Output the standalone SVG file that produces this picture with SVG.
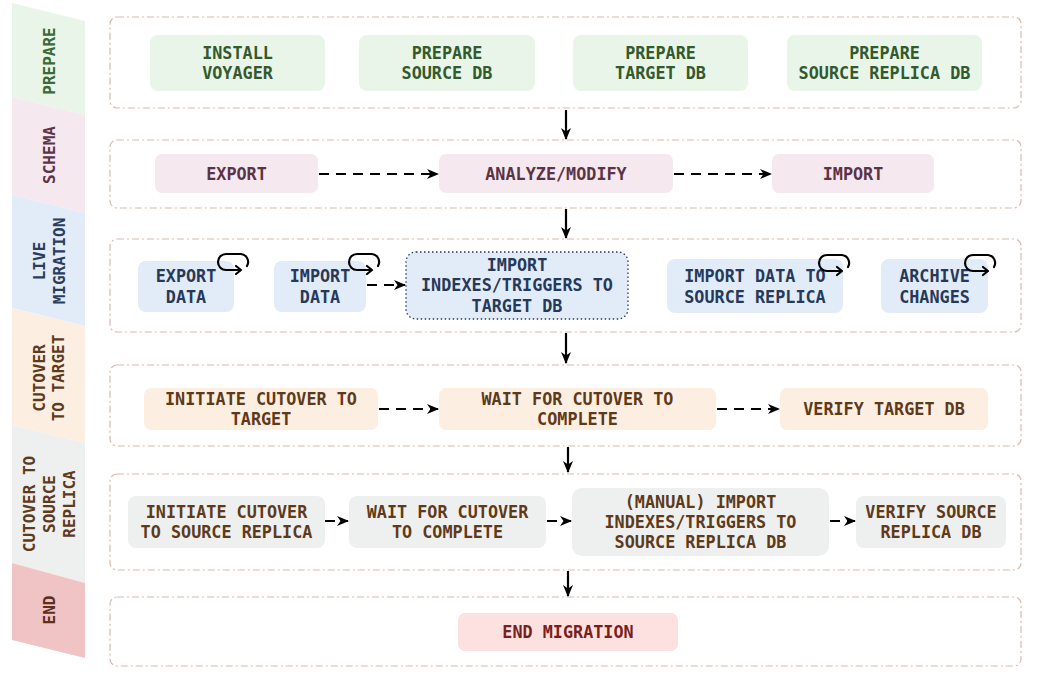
<svg xmlns="http://www.w3.org/2000/svg" width="1038" height="677" viewBox="0 0 1038 677">
  <style>
    .t { font-family: "DejaVu Sans Mono", "Liberation Mono", monospace; font-weight: bold; font-size: 16.8px; text-anchor: middle; }
    .lt { font-size: 16px; }
    .lane { stroke: none; }
    .box { fill: none; stroke: #d6bcae; stroke-width: 1.2; stroke-dasharray: 7 3 2 3; }
    .flow { fill: none; stroke: #000; stroke-width: 2.2; }
    .dash { stroke-dasharray: 10 7; }
    .loop { fill: none; stroke: #000; stroke-width: 2.2; stroke-linecap: round; stroke-linejoin: round; }
    .g-prep rect { fill: #e9f5e8; } .g-prep text { fill: #325a2d; }
    .g-sch rect { fill: #f5e8ef; } .g-sch text { fill: #5a3346; }
    .g-live rect { fill: #e2ecf8; } .g-live text { fill: #26395a; }
    .g-ct rect { fill: #fdeee2; } .g-ct text { fill: #5e3a1a; }
    .g-cs rect { fill: #eef0ef; } .g-cs text { fill: #5e3a1a; }
    .g-end rect { fill: #fde1e1; } .g-end text { fill: #7a1f1a; }
  </style>
  <defs>
    <marker id="ah" viewBox="0 0 12 10" refX="11" refY="5" markerWidth="12" markerHeight="10" markerUnits="userSpaceOnUse" orient="auto">
      <path d="M0,0 L12,5 L0,10 L3.5,5 z" fill="#000"/>
    </marker>
    <g id="loop">
      <path class="loop" d="M22,18 H8 A8,8 0 0 1 8,2 H23 A8,8 0 0 1 29,14"/>
      <path class="loop" d="M18,14 L23,18 L18,22"/>
    </g>
  </defs>

  <!-- phase bands -->
  <g id="lanes">
    <polygon class="lane" fill="#e9f5e8" points="12,3 85,21 85,115 12,97"/>
    <polygon class="lane" fill="#f5e8ef" points="12,97 85,115 85,213 12,195"/>
    <polygon class="lane" fill="#e2ecf8" points="12,195 85,213 85,326 12,308"/>
    <polygon class="lane" fill="#fdeee2" points="12,308 85,326 85,443 12,425"/>
    <polygon class="lane" fill="#eef0ef" points="12,425 85,443 85,583 12,563"/>
    <polygon class="lane" fill="#f0c4c4" points="12,563 85,583 85,658 12,640"/>
    <text class="t lt" fill="#3a6a35" transform="translate(49,61) rotate(-90)" dominant-baseline="central">PREPARE</text>
    <text class="t lt" fill="#5e3548" transform="translate(49,155) rotate(-90)" dominant-baseline="central">SCHEMA</text>
    <g fill="#2b3d5e">
      <text class="t lt" transform="translate(39,261) rotate(-90)" dominant-baseline="central">LIVE</text>
      <text class="t lt" transform="translate(59,261) rotate(-90)" dominant-baseline="central">MIGRATION</text>
    </g>
    <g fill="#5e3b1c">
      <text class="t lt" transform="translate(39,378) rotate(-90)" dominant-baseline="central">CUTOVER</text>
      <text class="t lt" transform="translate(58,378) rotate(-90)" dominant-baseline="central">TO TARGET</text>
    </g>
    <g fill="#5e3b1c">
      <text class="t lt" transform="translate(29,504) rotate(-90)" dominant-baseline="central">CUTOVER TO</text>
      <text class="t lt" transform="translate(49,504) rotate(-90)" dominant-baseline="central">SOURCE</text>
      <text class="t lt" transform="translate(69,504) rotate(-90)" dominant-baseline="central">REPLICA</text>
    </g>
    <text class="t lt" fill="#5e2f1c" transform="translate(49,610) rotate(-90)" dominant-baseline="central">END</text>
  </g>

  <!-- phase containers -->
  <g id="containers">
    <rect class="box" x="110" y="17" width="911" height="91" rx="7"/>
    <rect class="box" x="110" y="140" width="911" height="68" rx="7"/>
    <rect class="box" x="110" y="239" width="911" height="93" rx="7"/>
    <rect class="box" x="110" y="365" width="911" height="81" rx="7"/>
    <rect class="box" x="110" y="474" width="911" height="96" rx="7"/>
    <rect class="box" x="110" y="597" width="911" height="69" rx="7"/>
  </g>

  <!-- PREPARE -->
  <g id="install-voyager" class="g-prep">
    <rect x="150" y="35" width="175" height="56" rx="8"/>
    <text class="t" x="237.5" y="59">INSTALL</text>
    <text class="t" x="237.5" y="79">VOYAGER</text>
  </g>
  <g id="prepare-source" class="g-prep">
    <rect x="359" y="35" width="176" height="56" rx="8"/>
    <text class="t" x="447" y="59">PREPARE</text>
    <text class="t" x="447" y="79">SOURCE DB</text>
  </g>
  <g id="prepare-target" class="g-prep">
    <rect x="573" y="35" width="175" height="56" rx="8"/>
    <text class="t" x="660.5" y="59">PREPARE</text>
    <text class="t" x="660.5" y="79">TARGET DB</text>
  </g>
  <g id="prepare-replica" class="g-prep">
    <rect x="787" y="35" width="195" height="56" rx="8"/>
    <text class="t" x="884.5" y="59">PREPARE</text>
    <text class="t" x="884.5" y="79">SOURCE REPLICA DB</text>
  </g>

  <!-- SCHEMA -->
  <g id="schema-export" class="g-sch">
    <rect x="155" y="154" width="163" height="39" rx="7"/>
    <text class="t" x="236.5" y="180">EXPORT</text>
  </g>
  <g id="schema-analyze" class="g-sch">
    <rect x="439" y="154" width="234" height="39" rx="7"/>
    <text class="t" x="556" y="180">ANALYZE/MODIFY</text>
  </g>
  <g id="schema-import" class="g-sch">
    <rect x="772" y="154" width="162" height="39" rx="7"/>
    <text class="t" x="853" y="180">IMPORT</text>
  </g>

  <!-- LIVE MIGRATION -->
  <g id="export-data" class="g-live">
    <rect x="138" y="261" width="96" height="51" rx="8"/>
    <text class="t" x="186" y="282">EXPORT</text>
    <text class="t" x="186" y="303">DATA</text>
    <use href="#loop" x="218" y="252"/>
  </g>
  <g id="import-data" class="g-live">
    <rect x="274" y="261" width="92" height="51" rx="8"/>
    <text class="t" x="320" y="282">IMPORT</text>
    <text class="t" x="320" y="303">DATA</text>
    <use href="#loop" x="349" y="252"/>
  </g>
  <g id="import-indexes-target" class="g-live">
    <rect x="406" y="252" width="222" height="67" rx="10" stroke="#26395a" stroke-width="1.3" stroke-dasharray="1.5 2.5"/>
    <text class="t" x="517" y="271">IMPORT</text>
    <text class="t" x="517" y="291">INDEXES/TRIGGERS TO</text>
    <text class="t" x="517" y="312">TARGET DB</text>
  </g>
  <g id="import-data-replica" class="g-live">
    <rect x="667" y="259" width="176" height="54" rx="8"/>
    <text class="t" x="755" y="282">IMPORT DATA TO</text>
    <text class="t" x="755" y="303">SOURCE REPLICA</text>
    <use href="#loop" x="819" y="253"/>
  </g>
  <g id="archive-changes" class="g-live">
    <rect x="881" y="259" width="107" height="54" rx="8"/>
    <text class="t" x="934.5" y="282">ARCHIVE</text>
    <text class="t" x="934.5" y="303">CHANGES</text>
    <use href="#loop" x="965" y="253"/>
  </g>

  <!-- CUTOVER TO TARGET -->
  <g id="initiate-target" class="g-ct">
    <rect x="144" y="388" width="234" height="42" rx="7"/>
    <text class="t" x="261" y="405">INITIATE CUTOVER TO</text>
    <text class="t" x="261" y="425">TARGET</text>
  </g>
  <g id="wait-target" class="g-ct">
    <rect x="439" y="388" width="277" height="42" rx="7"/>
    <text class="t" x="577.5" y="405">WAIT FOR CUTOVER TO</text>
    <text class="t" x="577.5" y="425">COMPLETE</text>
  </g>
  <g id="verify-target" class="g-ct">
    <rect x="780" y="388" width="208" height="42" rx="7"/>
    <text class="t" x="884" y="415">VERIFY TARGET DB</text>
  </g>

  <!-- CUTOVER TO SOURCE REPLICA -->
  <g id="initiate-replica" class="g-cs">
    <rect x="128" y="496" width="197" height="52" rx="8"/>
    <text class="t" x="226.5" y="518">INITIATE CUTOVER</text>
    <text class="t" x="226.5" y="538">TO SOURCE REPLICA</text>
  </g>
  <g id="wait-replica" class="g-cs">
    <rect x="349" y="496" width="197" height="52" rx="8"/>
    <text class="t" x="447.5" y="518">WAIT FOR CUTOVER</text>
    <text class="t" x="447.5" y="538">TO COMPLETE</text>
  </g>
  <g id="import-indexes-replica" class="g-cs">
    <rect x="572" y="488" width="257" height="68" rx="10"/>
    <text class="t" x="700.5" y="508">(MANUAL) IMPORT</text>
    <text class="t" x="700.5" y="528">INDEXES/TRIGGERS TO</text>
    <text class="t" x="700.5" y="548">SOURCE REPLICA DB</text>
  </g>
  <g id="verify-replica" class="g-cs">
    <rect x="856" y="496" width="150" height="52" rx="8"/>
    <text class="t" x="931" y="518">VERIFY SOURCE</text>
    <text class="t" x="931" y="538">REPLICA DB</text>
  </g>

  <!-- END -->
  <g id="end-migration" class="g-end">
    <rect x="458" y="613" width="220" height="38" rx="7"/>
    <text class="t" x="568" y="638">END MIGRATION</text>
  </g>

  <!-- connectors -->
  <g id="connectors">
    <line class="flow" x1="566" y1="110" x2="566" y2="139" marker-end="url(#ah)"/>
    <line class="flow" x1="566" y1="209" x2="566" y2="238" marker-end="url(#ah)"/>
    <line class="flow" x1="566" y1="333" x2="566" y2="363" marker-end="url(#ah)"/>
    <line class="flow" x1="568" y1="447" x2="568" y2="472" marker-end="url(#ah)"/>
    <line class="flow" x1="568" y1="571" x2="568" y2="596" marker-end="url(#ah)"/>

    <line class="flow dash" x1="319" y1="174" x2="438" y2="174" marker-end="url(#ah)"/>
    <line class="flow dash" x1="674" y1="174" x2="771" y2="174" marker-end="url(#ah)"/>

    <line class="flow dash" x1="367" y1="285" x2="405" y2="285" marker-end="url(#ah)"/>

    <line class="flow dash" x1="379" y1="409" x2="438" y2="409" marker-end="url(#ah)"/>
    <line class="flow dash" x1="717" y1="409" x2="779" y2="409" marker-end="url(#ah)"/>

    <line class="flow dash" x1="325" y1="521" x2="348" y2="521" marker-end="url(#ah)"/>
    <line class="flow dash" x1="547" y1="521" x2="571" y2="521" marker-end="url(#ah)"/>
    <line class="flow dash" x1="830" y1="521" x2="855" y2="521" marker-end="url(#ah)"/>
  </g>
</svg>
